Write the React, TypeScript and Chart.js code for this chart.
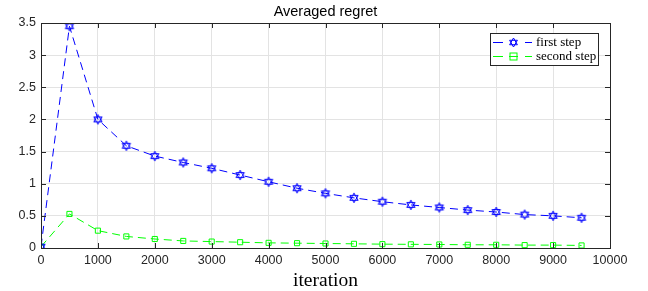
import React, { useEffect, useRef } from "react";
import { Chart, registerables } from "chart.js";

Chart.register(...registerables);

const iterations = [0, 500, 1000, 1500, 2000, 2500, 3000, 3500, 4000, 4500, 5000, 5500, 6000, 6500, 7000, 7500, 8000, 8500, 9000, 9500];
const firstStep = [0.02, 3.45, 2.0, 1.59, 1.43, 1.33, 1.24, 1.135, 1.03, 0.93, 0.85, 0.78, 0.72, 0.67, 0.63, 0.59, 0.56, 0.52, 0.5, 0.47];
const secondStep = [0.02, 0.53, 0.27, 0.18, 0.14, 0.11, 0.1, 0.09, 0.08, 0.075, 0.07, 0.065, 0.06, 0.057, 0.055, 0.05, 0.05, 0.045, 0.045, 0.04];
const seriesLabels = ["first step", "second step"];
const xTicks = [0, 1000, 2000, 3000, 4000, 5000, 6000, 7000, 8000, 9000, 10000];
const yTicks = [0, 0.5, 1, 1.5, 2, 2.5, 3, 3.5];
const titleText = "Averaged regret";
const xLabel = "iteration";

const BLUE = "#0000ff";
const GREEN = "#00ff00";
const SANS = "'Liberation Sans', Arial, sans-serif";
const SERIF = "'Liberation Serif', 'DejaVu Serif', serif";

function drawHexagram(ctx: CanvasRenderingContext2D, cx: number, cy: number, r: number, color: string) {
  ctx.save();
  ctx.strokeStyle = color;
  ctx.lineWidth = 1;
  ctx.setLineDash([]);
  for (let t = 0; t < 2; t++) {
    ctx.beginPath();
    for (let i = 0; i < 3; i++) {
      const a = -Math.PI / 2 + t * Math.PI + (i * 2 * Math.PI) / 3;
      const px = cx + r * Math.cos(a);
      const py = cy + r * Math.sin(a);
      if (i === 0) ctx.moveTo(px, py);
      else ctx.lineTo(px, py);
    }
    ctx.closePath();
    ctx.stroke();
  }
  ctx.restore();
}

function drawSquare(ctx: CanvasRenderingContext2D, cx: number, cy: number, s: number, color: string) {
  ctx.save();
  ctx.strokeStyle = color;
  ctx.lineWidth = 1;
  ctx.setLineDash([]);
  ctx.strokeRect(cx - s / 2, cy - s / 2, s, s);
  ctx.restore();
}

function makeHexCanvas(): HTMLCanvasElement {
  const c = document.createElement("canvas");
  c.width = 12;
  c.height = 12;
  const ctx = c.getContext("2d")!;
  drawHexagram(ctx, 6, 6, 4.8, BLUE);
  return c;
}

const decorPlugin = {
  id: "decor",
  afterDraw(chart: any) {
    const ctx: CanvasRenderingContext2D = chart.ctx;
    const { left, right, top, bottom } = chart.chartArea;
    const xs = chart.scales.x;
    const ys = chart.scales.y;
    ctx.save();
    ctx.strokeStyle = "#262626";
    ctx.lineWidth = 1;
    ctx.setLineDash([]);
    ctx.strokeRect(Math.round(left) + 0.5, Math.round(top) + 0.5, Math.round(right - left), Math.round(bottom - top));
    const tl = 5;
    ctx.beginPath();
    xTicks.forEach((v) => {
      const x = Math.round(xs.getPixelForValue(v)) + 0.5;
      ctx.moveTo(x, bottom);
      ctx.lineTo(x, bottom - tl);
      ctx.moveTo(x, top);
      ctx.lineTo(x, top + tl);
    });
    yTicks.forEach((v) => {
      const y = Math.round(ys.getPixelForValue(v)) + 0.5;
      ctx.moveTo(left, y);
      ctx.lineTo(left + tl, y);
      ctx.moveTo(right, y);
      ctx.lineTo(right - tl, y);
    });
    ctx.stroke();
    ctx.fillStyle = "#000";
    ctx.font = "14.5px " + SANS;
    ctx.textAlign = "center";
    ctx.textBaseline = "alphabetic";
    ctx.fillText(titleText, (left + right) / 2, 16);
    ctx.font = "19.5px " + SERIF;
    ctx.fillText(xLabel, (left + right) / 2, 286);
    const lx = 490, ly = 33, lw = 108, lh = 32;
    ctx.fillStyle = "#fff";
    ctx.fillRect(lx, ly, lw, lh);
    ctx.strokeStyle = "#262626";
    ctx.strokeRect(lx + 0.5, ly + 0.5, lw, lh);
    const rows = [
      { y: 42.5, color: BLUE, kind: "hex" },
      { y: 56.5, color: GREEN, kind: "sq" },
    ];
    rows.forEach((r, i) => {
      ctx.strokeStyle = r.color;
      ctx.lineWidth = 1;
      ctx.beginPath();
      ctx.moveTo(493, r.y);
      ctx.lineTo(503, r.y);
      ctx.moveTo(525, r.y);
      ctx.lineTo(532, r.y);
      ctx.stroke();
      if (r.kind === "hex") drawHexagram(ctx, 513.5, r.y, 4.5, r.color);
      else {
        drawSquare(ctx, 513.5, r.y, 7, r.color);
        ctx.beginPath();
        ctx.moveTo(509, r.y);
        ctx.lineTo(518, r.y);
        ctx.stroke();
      }
      ctx.fillStyle = "#000";
      ctx.font = "13px " + SERIF;
      ctx.textAlign = "left";
      ctx.textBaseline = "middle";
      ctx.fillText(seriesLabels[i], 536, r.y);
    });
    ctx.restore();
  },
};

export default function App() {
  const ref = useRef<HTMLCanvasElement | null>(null);
  useEffect(() => {
    if (!ref.current) return;
    const hex = makeHexCanvas();
    const chart = new Chart(ref.current, {
      type: "line",
      data: {
        datasets: [
          {
            label: seriesLabels[0],
            data: iterations.map((x, i) => ({ x, y: firstStep[i] })),
            borderColor: BLUE,
            backgroundColor: "transparent",
            borderWidth: 1,
            borderDash: [8, 5],
            pointStyle: hex as any,
            pointRadius: 5,
            pointBorderColor: BLUE,
            tension: 0,
          },
          {
            label: seriesLabels[1],
            data: iterations.map((x, i) => ({ x, y: secondStep[i] })),
            borderColor: GREEN,
            backgroundColor: "transparent",
            borderWidth: 1,
            borderDash: [8, 5],
            pointStyle: "rect",
            pointRadius: 3.6,
            pointBorderWidth: 1,
            pointBorderColor: GREEN,
            pointBackgroundColor: "transparent",
            tension: 0,
          },
        ],
      },
      options: {
        animation: false,
        responsive: false,
        maintainAspectRatio: false,
        layout: { padding: { top: 23, right: 38, left: 0, bottom: 0 } },
        plugins: { legend: { display: false }, title: { display: false }, tooltip: { enabled: false } },
        scales: {
          x: {
            type: "linear",
            min: 0,
            max: 10000,
            afterFit: (s: any) => { s.height = 43; },
            afterBuildTicks: (s: any) => { s.ticks = xTicks.map((v) => ({ value: v })); },
            grid: { color: "#e3e3e3", drawTicks: false },
            border: { display: false },
            ticks: {
              padding: 5,
              color: "#262626",
              font: { family: SANS, size: 12.5 },
              maxRotation: 0,
              callback: (v: any) => String(v),
            },
          },
          y: {
            type: "linear",
            min: 0,
            max: 3.5,
            afterFit: (s: any) => { s.width = 41; },
            afterBuildTicks: (s: any) => { s.ticks = yTicks.map((v) => ({ value: v })); },
            grid: { color: "#e3e3e3", drawTicks: false },
            border: { display: false },
            ticks: {
              padding: 5,
              color: "#262626",
              font: { family: SANS, size: 12.5 },
              callback: (v: any) => String(v),
            },
          },
        },
      },
      plugins: [decorPlugin],
    });
    return () => chart.destroy();
  }, []);
  return (
    <div style={{ position: "fixed", left: 0, top: 0, width: 648, height: 291, background: "#fff" }}>
      <canvas ref={ref} width={648} height={291} style={{ width: 648, height: 291 }} />
    </div>
  );
}
